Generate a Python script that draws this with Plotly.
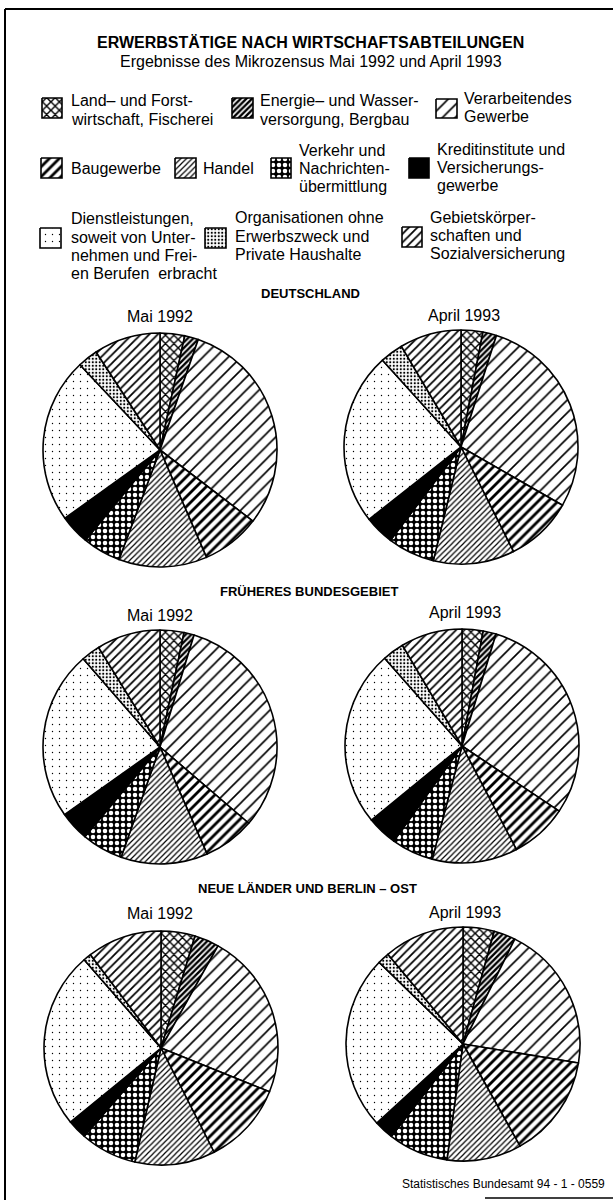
import plotly.graph_objects as go

W, H = 613, 1200
FONT = "Liberation Sans, Arial, Helvetica, sans-serif"

# ---------------- data ----------------
categories = [
    "Land- und Forstwirtschaft, Fischerei",
    "Energie- und Wasserversorgung, Bergbau",
    "Verarbeitendes Gewerbe",
    "Baugewerbe",
    "Handel",
    "Verkehr und Nachrichtenübermittlung",
    "Kreditinstitute und Versicherungsgewerbe",
    "Dienstleistungen, soweit von Unternehmen und Freien Berufen erbracht",
    "Organisationen ohne Erwerbszweck und Private Haushalte",
    "Gebietskörperschaften und Sozialversicherung",
]

deutschland_1992 = [3.4, 1.9, 30.1, 8.1, 12.2, 5.3, 4.1, 22.9, 2.8, 9.2]
deutschland_1993 = [3.0, 1.9, 28.4, 9.3, 11.2, 6.5, 4.1, 23.9, 3.2, 8.5]
frueher_1992 = [3.3, 1.4, 31.6, 7.1, 12.0, 5.7, 4.1, 23.4, 2.6, 8.8]
frueher_1993 = [2.9, 1.8, 29.7, 7.9, 11.8, 5.8, 4.2, 24.4, 3.0, 8.5]
neue_1992 = [4.7, 3.4, 23.0, 11.4, 11.1, 7.8, 2.7, 24.5, 1.1, 10.3]
neue_1993 = [4.3, 3.0, 20.3, 14.3, 10.3, 8.3, 2.7, 24.1, 1.6, 11.1]

legend_lines = [
    ["Land– und Forst-", "wirtschaft, Fischerei"],
    ["Energie– und Wasser-", "versorgung, Bergbau"],
    ["Verarbeitendes", "Gewerbe"],
    ["Baugewerbe"],
    ["Handel"],
    ["Verkehr und", "Nachrichten-", "übermittlung"],
    ["Kreditinstitute und", "Versicherungs-", "gewerbe"],
    ["Dienstleistungen,", "soweit von Unter-", "nehmen und Frei-", "en Berufen  erbracht"],
    ["Organisationen ohne", "Erwerbszweck und", "Private Haushalte"],
    ["Gebietskörper-", "schaften und", "Sozialversicherung"],
]

title_text = "ERWERBSTÄTIGE NACH WIRTSCHAFTSABTEILUNGEN"
subtitle_text = "Ergebnisse des Mikrozensus Mai 1992 und April 1993"
section_titles = ["DEUTSCHLAND", "FRÜHERES BUNDESGEBIET", "NEUE LÄNDER UND BERLIN – OST"]
period_titles = ["Mai 1992", "April 1993"]
source_text = "Statistisches Bundesamt 94 - 1 - 0559"

pies = [
    [deutschland_1992, deutschland_1993],
    [frueher_1992, frueher_1993],
    [neue_1992, neue_1993],
]

# ---------------- styles ----------------
patterns = [
    dict(shape="x", size=6, solidity=0.42, fg="black", bg="white", color="white"),
    dict(shape="/", size=4, solidity=0.6, fg="black", bg="white", color="white"),
    dict(shape="/", size=9, solidity=0.18, fg="black", bg="white", color="white"),
    dict(shape="/", size=7, solidity=0.4, fg="black", bg="white", color="white"),
    dict(shape="/", size=4, solidity=0.3, fg="black", bg="white", color="white"),
    dict(shape=".", size=6, solidity=0.45, fg="white", bg="black", color="black"),
    dict(shape="", size=8, solidity=0.3, fg="black", bg="black", color="black"),
    dict(shape=".", size=7, solidity=0.03, fg="black", bg="white", color="white"),
    dict(shape=".", size=3.5, solidity=0.3, fg="black", bg="white", color="white"),
    dict(shape="/", size=6, solidity=0.3, fg="black", bg="white", color="white"),
]

# layout positions (pixels)
pie_centers = [[(160, 450), (461, 447)], [(160, 747), (462, 746)], [(161, 1048), (463, 1044)]]
pie_radius = 117
period_title_pos = [[(160, 316), (464, 315)], [(160, 615), (465, 612)], [(160, 913), (465, 912)]]
section_title_pos = [(310, 293), (309, 591), (307, 888)]

legend_layout = [
    dict(box=(42, 98, 62, 118), tx=69, ty=[100, 119]),
    dict(box=(232, 98, 253, 118), tx=258, ty=[100, 119]),
    dict(box=(436, 99, 457, 118), tx=462, ty=[98, 116]),
    dict(box=(41, 158, 62, 178), tx=69, ty=[168]),
    dict(box=(175, 158, 196, 178), tx=201, ty=[168]),
    dict(box=(271, 158, 291, 178), tx=297, ty=[150, 168, 186]),
    dict(box=(409, 158, 429, 178), tx=435, ty=[149, 167, 185]),
    dict(box=(40, 228, 61, 248), tx=69, ty=[218, 237, 255, 273]),
    dict(box=(205, 228, 226, 248), tx=233, ty=[217, 236, 254]),
    dict(box=(402, 227, 422, 247), tx=428, ty=[217, 235, 253]),
]

fig = go.Figure()

# ---------------- pies ----------------
for r, row in enumerate(pies):
    for c, values in enumerate(row):
        cx, cy = pie_centers[r][c]
        rad = pie_radius
        fig.add_trace(go.Pie(
            labels=categories,
            values=values,
            sort=False,
            direction="clockwise",
            rotation=0,
            textinfo="none",
            hoverinfo="label+percent",
            showlegend=False,
            domain=dict(x=[(cx - rad) / W, (cx + rad) / W],
                        y=[1 - (cy + rad) / H, 1 - (cy - rad) / H]),
            marker=dict(
                colors=[p["color"] for p in patterns],
                line=dict(color="black", width=1.6),
                pattern=dict(
                    shape=[p["shape"] for p in patterns],
                    size=[p["size"] for p in patterns],
                    solidity=[p["solidity"] for p in patterns],
                    fgcolor=[p["fg"] for p in patterns],
                    bgcolor=[p["bg"] for p in patterns],
                    fillmode="replace",
                ),
            ),
        ))

# ---------------- legend icons ----------------
for i, (lay, p) in enumerate(zip(legend_layout, patterns)):
    x0, y0, x1, y1 = lay["box"]
    kw = {}
    if p["shape"]:
        kw["fillpattern"] = dict(shape=p["shape"], size=p["size"], solidity=p["solidity"],
                                 fgcolor=p["fg"], bgcolor=p["bg"], fillmode="replace")
        kw["fillcolor"] = p["bg"]
    else:
        kw["fillcolor"] = "black"
    fig.add_trace(go.Scatter(
        x=[x0, x1, x1, x0, x0], y=[y0, y0, y1, y1, y0],
        mode="lines", fill="toself", line=dict(color="black", width=1.6),
        hoverinfo="skip", showlegend=False, **kw,
    ))

annotations = []
def txt(x, y, s, size, bold=False, xanchor="center"):
    annotations.append(dict(
        x=x, y=y, xref="x", yref="y", text=(f"<b>{s}</b>" if bold else s),
        showarrow=False, xanchor=xanchor, yanchor="middle",
        font=dict(family=FONT, size=size, color="black"),
    ))

txt(310, 42, title_text, 16, bold=True)
txt(311, 61, subtitle_text, 16)

for lay, lines in zip(legend_layout, legend_lines):
    for yy, line in zip(lay["ty"], lines):
        txt(lay["tx"], yy, line, 16, xanchor="left")

for (sx, sy), s in zip(section_title_pos, section_titles):
    txt(sx, sy, s, 13, bold=True)

for r in range(3):
    for c in range(2):
        px, py = period_title_pos[r][c]
        txt(px, py, period_titles[c], 16)

txt(607, 1184, source_text, 12, xanchor="right")

shapes = [
    dict(type="line", xref="x", yref="y", x0=5, y0=9, x1=5, y1=1200, line=dict(color="black", width=2)),
    dict(type="line", xref="x", yref="y", x0=5, y0=9, x1=613, y1=9, line=dict(color="black", width=2)),
    dict(type="line", xref="x", yref="y", x0=485, y0=1198, x1=613, y1=1198, line=dict(color="black", width=1.5)),
]

fig.update_layout(
    width=W, height=H,
    margin=dict(l=0, r=0, t=0, b=0),
    paper_bgcolor="white", plot_bgcolor="white",
    showlegend=False,
    xaxis=dict(range=[0, W], visible=False, domain=[0, 1], fixedrange=True),
    yaxis=dict(range=[H, 0], visible=False, domain=[0, 1], fixedrange=True),
    annotations=annotations,
    shapes=shapes,
)

fig.write_html(
    "out.html",
    config={"displayModeBar": False},
    post_script="document.body.style.margin='0';document.body.style.overflow='hidden';",
)
